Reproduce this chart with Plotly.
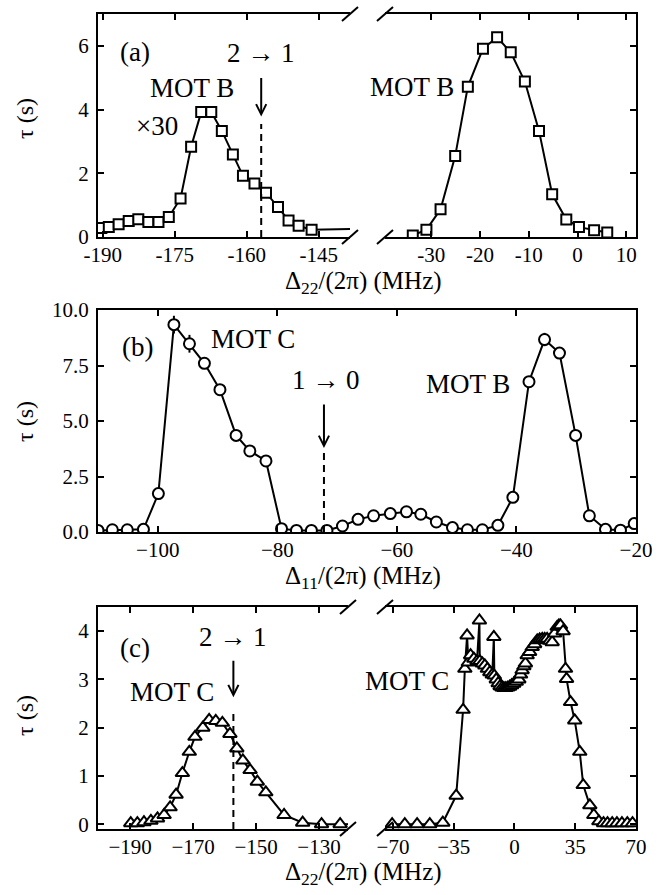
import plotly.graph_objects as go

W, H = 671, 895
FONT = "Liberation Serif"

# ---------------- data ----------------
# (a) Delta_22 scan, MOT B (left part x30)
a_left_x = [-190.3, -188.75, -186.7, -184.6, -182.6, -180.5, -178.4, -176.25, -173.8, -171.6,
            -169.5, -167.4, -165.2, -162.9, -160.8, -158.4, -156.0, -153.5, -151.3, -149.2, -146.5]
a_left_tau = [0.28, 0.31, 0.40, 0.50, 0.56, 0.47, 0.47, 0.63, 1.21, 2.83,
              3.92, 3.92, 3.33, 2.59, 1.92, 1.68, 1.39, 0.94, 0.52, 0.35, 0.23]
a_left_tail_x = [-146.5, -136.0]
a_left_tail_tau = [0.23, 0.26]
a_right_x = [-33.8, -31.0, -28.1, -25.1, -22.5, -19.4, -16.5, -13.7, -10.8, -7.9, -5.2, -2.3, 0.3, 3.4, 6.1]
a_right_tau = [0.05, 0.23, 0.87, 2.54, 4.72, 5.91, 6.27, 5.80, 4.88, 3.33, 1.34, 0.55, 0.31, 0.21, 0.14]
a_left_ticks = [-190, -175, -160, -145]
a_left_ticktext = ["-190", "-175", "-160", "-145"]
a_right_ticks = [-30, -20, -10, 0, 10]
a_right_ticktext = ["-30", "-20", "-10", "0", "10"]
a_yticks = [0, 2, 4, 6]

# (b) Delta_11 scan
b_x = [-110.0, -107.6, -105.1, -102.4, -99.9, -97.3, -94.7, -92.2, -89.6, -86.9, -84.6, -81.9,
       -79.3, -76.8, -74.3, -71.7, -69.1, -66.5, -63.9, -61.1, -58.4, -56.0, -53.4, -50.7,
       -48.2, -45.7, -43.1, -40.6, -37.9, -35.3, -32.8, -30.1, -27.8, -25.1, -22.6, -20.3]
b_tau = [0.07, 0.10, 0.10, 0.12, 1.73, 9.34, 8.48, 7.60, 6.41, 4.35, 3.65, 3.20,
         0.15, 0.07, 0.07, 0.07, 0.27, 0.57, 0.73, 0.83, 0.91, 0.80, 0.45, 0.20,
         0.10, 0.10, 0.30, 1.56, 6.77, 8.67, 8.06, 4.35, 0.73, 0.12, 0.08, 0.38]
b_err = [0, 0, 0, 0, 0, 0.4, 0.4, 0, 0, 0, 0, 0,
         0, 0, 0, 0, 0, 0, 0, 0, 0, 0, 0, 0,
         0, 0, 0, 0, 0, 0.3, 0, 0, 0, 0, 0, 0]
b_xticks = [-100, -80, -60, -40, -20]
b_yticks = [0, 2.5, 5, 7.5, 10]
b_yticktext = ["0.0", "2.5", "5.0", "7.5", "10.0"]

# (c) Delta_22 scan, MOT C
c_left_x = [-189.8, -187.7, -185.6, -183.4, -181.3, -179.2, -177.3, -175.4, -173.4, -171.2,
            -169.4, -166.9, -164.9, -162.8, -160.7, -158.3, -156.1, -154.2, -151.9, -149.6,
            -146.9, -141.1, -135.2, -129.2, -123.3]
c_left_tau = [0.02, 0.02, 0.04, 0.07, 0.12, 0.19, 0.35, 0.61, 1.06, 1.50,
              1.81, 2.00, 2.16, 2.14, 2.10, 1.87, 1.57, 1.32, 1.12, 0.88,
              0.66, 0.19, 0.03, 0.0, 0.0]
c_left_tail_x = [-123.3, -115.0]
c_left_tail_tau = [0.0, 0.0]
c_right_x = [-70.5, -63.2, -56.1, -48.8, -41.3, -33.6, -29.6, -28.6, -27.3, -26.6,
             -25.3, -23.4, -21.6, -20.2, -20.0, -18.5, -17.1, -15.6, -14.2, -12.8,
             -11.9, -11.6, -10.5, -9.4, -8.3, -7.2, -6.1, -5.0, -3.9, -2.8,
             -1.6, -0.4, 1.0, 2.5, 3.5, 4.4, 5.4, 6.3, 7.3, 8.7,
             10.2, 11.6, 13.1, 14.5, 16.0, 17.4, 18.8, 20.3, 21.7, 23.1,
             24.6, 25.6, 26.5, 28.0, 29.4, 30.0, 32.3, 34.7, 37.6, 39.6,
             43.4, 45.7, 48.6, 51.3, 53.6, 56.3, 59.0, 61.9, 65.0, 68.0]
c_right_tau = [0.0, 0.0, 0.0, 0.0, 0.03, 0.59, 2.37, 3.22, 3.91, 3.35,
               3.50, 3.43, 3.38, 4.22, 3.38, 3.33, 3.29, 3.22, 3.15, 3.10,
               3.88, 3.08, 3.00, 2.92, 2.86, 2.83, 2.82, 2.82, 2.83, 2.85,
               2.88, 2.91, 2.95, 3.00, 3.10, 3.19, 3.27, 3.33, 3.50, 3.57,
               3.67, 3.73, 3.81, 3.83, 3.84, 3.84, 3.84, 3.80, 3.77, 3.95,
               4.09, 4.12, 4.12, 4.00, 3.22, 3.01, 2.53, 2.15, 1.50, 0.81,
               0.39, 0.19, 0.06, 0.02, 0.02, 0.02, 0.02, 0.02, 0.02, 0.02]
c_left_ticks = [-190, -170, -150, -130]
c_right_ticks = [-70, -35, 0, 35, 70]
c_yticks = [0, 1, 2, 3, 4]

# transition markers (dashed line positions)
a_transition_x = -157.0
b_transition_x = -72.2
c_transition_x = -157.2


# ---------------- helpers ----------------
def PX(x):
    return x / W


def PY(y):
    return 1 - y / H


BLACK = "black"
line_style = dict(color=BLACK, width=2)


def marker(symbol, size):
    return dict(symbol=symbol, size=size, color="white", line=dict(color=BLACK, width=2))


fig = go.Figure()

# (a)
fig.add_trace(go.Scatter(x=a_left_tail_x, y=a_left_tail_tau, mode="lines", line=line_style,
                         xaxis="x", yaxis="y", showlegend=False))
fig.add_trace(go.Scatter(x=a_left_x, y=a_left_tau, mode="lines+markers", line=line_style,
                         marker=marker("square", 10), xaxis="x", yaxis="y", showlegend=False))
fig.add_trace(go.Scatter(x=a_right_x, y=a_right_tau, mode="lines+markers", line=line_style,
                         marker=marker("square", 10), xaxis="x2", yaxis="y2", showlegend=False))
# (b)
fig.add_trace(go.Scatter(x=b_x, y=b_tau, mode="lines+markers", line=line_style,
                         marker=marker("circle", 11),
                         error_y=dict(type="data", array=b_err, visible=True, color=BLACK,
                                      thickness=2, width=0),
                         xaxis="x3", yaxis="y3", showlegend=False))
# (c)
fig.add_trace(go.Scatter(x=c_left_tail_x, y=c_left_tail_tau, mode="lines", line=line_style,
                         xaxis="x4", yaxis="y4", showlegend=False))
fig.add_trace(go.Scatter(x=c_left_x, y=c_left_tau, mode="lines+markers", line=line_style,
                         marker=marker("triangle-up", 12), xaxis="x4", yaxis="y4", showlegend=False))
fig.add_trace(go.Scatter(x=c_right_x, y=c_right_tau, mode="lines+markers", line=line_style,
                         marker=marker("triangle-up", 12), xaxis="x5", yaxis="y5", showlegend=False))

tickfont = dict(family=FONT, size=21, color=BLACK)
base = dict(showline=True, linecolor=BLACK, linewidth=2, ticks="inside", ticklen=6,
            tickwidth=1.5, tickcolor=BLACK, showgrid=False, zeroline=False,
            tickfont=tickfont, automargin=False)
xbase = dict(base, ticklabelstandoff=-2)
ybase = dict(base, ticklabelstandoff=3)

a_y = [PY(237), PY(14)]
b_y = [PY(532), PY(310)]
c_y = [PY(829), PY(607)]
left_x = [PX(98), PX(350)]
right_x = [PX(385), PX(636)]
full_x = [PX(98), PX(636)]
c_left_dom = [PX(98), PX(348)]

fig.update_layout(
    width=W, height=H, margin=dict(l=0, r=0, t=0, b=0),
    paper_bgcolor="white", plot_bgcolor="white",
    font=dict(family=FONT, color=BLACK),
    xaxis=dict(xbase, domain=left_x, range=[-191, -138.5], anchor="y", mirror="ticks",
               tickvals=a_left_ticks, ticktext=a_left_ticktext),
    yaxis=dict(ybase, domain=a_y, range=[0, 7], anchor="x", tickvals=a_yticks),
    xaxis2=dict(xbase, domain=right_x, range=[-39.5, 12], anchor="y2", mirror="ticks",
                tickvals=a_right_ticks, ticktext=a_right_ticktext),
    yaxis2=dict(ybase, domain=a_y, range=[0, 7], anchor="x2", side="right",
                showticklabels=False, tickvals=a_yticks),
    xaxis3=dict(xbase, domain=full_x, range=[-110, -20], anchor="y3", mirror="ticks",
                tickvals=b_xticks),
    yaxis3=dict(ybase, domain=b_y, range=[0, 10], anchor="x3", mirror="ticks",
                tickvals=b_yticks, ticktext=b_yticktext),
    xaxis4=dict(xbase, domain=c_left_dom, range=[-200.2, -120.8], anchor="y4", mirror="ticks",
                tickvals=c_left_ticks),
    yaxis4=dict(ybase, domain=c_y, range=[-0.1, 4.5], anchor="x4", tickvals=c_yticks),
    xaxis5=dict(xbase, domain=right_x, range=[-74.6, 70], anchor="y5", mirror="ticks",
                tickvals=c_right_ticks),
    yaxis5=dict(ybase, domain=c_y, range=[-0.1, 4.5], anchor="x5", side="right",
                showticklabels=False, tickvals=c_yticks),
)

# ---------- break marks ----------
shapes = []
for cx, cy in [(350, 14), (350, 237), (385, 14), (385, 237),
               (348, 607), (348, 829), (385, 607), (385, 829)]:
    shapes.append(dict(type="line", xref="paper", yref="paper",
                       x0=PX(cx - 8), y0=PY(cy + 7), x1=PX(cx + 8), y1=PY(cy - 7),
                       line=dict(color=BLACK, width=2)))

# ---------- dashed transition lines ----------
dash = "7px,5px"
shapes.append(dict(type="line", xref="x", yref="y", x0=a_transition_x, x1=a_transition_x,
                   y0=0, y1=3.55, line=dict(color=BLACK, width=2, dash=dash)))
shapes.append(dict(type="line", xref="x3", yref="y3", x0=b_transition_x, x1=b_transition_x,
                   y0=0, y1=3.69, line=dict(color=BLACK, width=2, dash=dash)))
shapes.append(dict(type="line", xref="x4", yref="y4", x0=c_transition_x, x1=c_transition_x,
                   y0=-0.1, y1=2.38, line=dict(color=BLACK, width=2, dash=dash)))
fig.update_layout(shapes=shapes)

# ---------- annotations ----------
ann = []


def text(px_, py_, s, size=27, **kw):
    ann.append(dict(x=PX(px_), y=PY(py_), xref="paper", yref="paper", text=s, showarrow=False,
                    font=dict(family=FONT, size=size, color=BLACK), xanchor="center",
                    yanchor="middle", **kw))


# arrows
for xr, yr, xv, yv, ay in [("x", "y", a_transition_x, 3.78, -40),
                           ("x3", "y3", b_transition_x, 3.78, -45),
                           ("x4", "y4", c_transition_x, 2.63, -38)]:
    ann.append(dict(x=xv, y=yv, xref=xr, yref=yr, ax=0, ay=ay, text="", showarrow=True,
                    arrowhead=5, arrowsize=1, arrowwidth=2, arrowcolor=BLACK, standoff=0))

text(135, 52, "(a)")
text(261, 53, "2 → 1")
text(192, 88, "MOT B")
text(157, 126, "×30")
text(412, 87, "MOT B")

text(137, 347, "(b)")
text(253, 339, "MOT C")
text(326, 380, "1 → 0")
text(468, 384, "MOT B")

text(135, 648, "(c)")
text(233, 637, "2 → 1")
text(172, 692, "MOT C")
text(407, 681, "MOT C")

# axis titles
text(363, 282, "Δ<sub>22</sub>/(2π) (MHz)", size=25)
text(363, 577, "Δ<sub>11</sub>/(2π) (MHz)", size=25)
text(363, 873, "Δ<sub>22</sub>/(2π) (MHz)", size=25)
for yc in [119, 422, 716]:
    text(25, yc, "τ (s)", size=24, textangle=-90)

fig.update_layout(annotations=ann)

fig.write_html("out.html", config={"displayModeBar": False},
               post_script="document.body.style.margin='0px';")
